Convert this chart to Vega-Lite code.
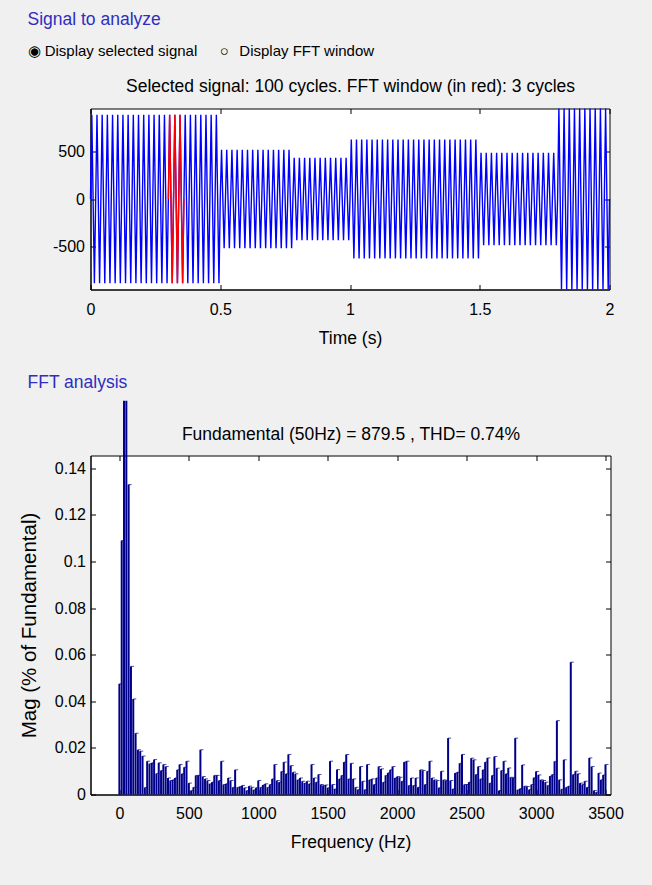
{
  "$schema": "https://vega.github.io/schema/vega-lite/v6.json",
  "background": "#f0f0f0",
  "padding": {"left": 18.5, "top": 10.5, "right": 27, "bottom": 34},
  "spacing": 26,
  "config": {
    "font": "Liberation Sans",
    "view": {"stroke": "black", "strokeWidth": 1, "fill": "white"},
    "axis": {
      "domainColor": "black", "tickColor": "black", "labelColor": "black", "titleColor": "black",
      "labelFontSize": 16, "titleFontSize": 17.5, "titleFontWeight": "normal",
      "tickSize": -5, "grid": false, "labelFlush": false, "labelOverlap": false,
      "labelFont": "Liberation Sans", "titleFont": "Liberation Sans"
    },
    "title": {"fontWeight": "normal", "font": "Liberation Sans"}
  },
  "datasets": {
    "signal": [
      {"t":0,"v":0},{"t":0.005,"v":879.5},{"t":0.015,"v":-879.5},
      {"t":0.02,"v":0},{"t":0.025,"v":879.5},{"t":0.035,"v":-879.5},
      {"t":0.04,"v":0},{"t":0.045,"v":879.5},{"t":0.055,"v":-879.5},
      {"t":0.06,"v":0},{"t":0.065,"v":879.5},{"t":0.075,"v":-879.5},
      {"t":0.08,"v":0},{"t":0.085,"v":879.5},{"t":0.095,"v":-879.5},
      {"t":0.1,"v":0},{"t":0.105,"v":879.5},{"t":0.115,"v":-879.5},
      {"t":0.12,"v":0},{"t":0.125,"v":879.5},{"t":0.135,"v":-879.5},
      {"t":0.14,"v":0},{"t":0.145,"v":879.5},{"t":0.155,"v":-879.5},
      {"t":0.16,"v":0},{"t":0.165,"v":879.5},{"t":0.175,"v":-879.5},
      {"t":0.18,"v":0},{"t":0.185,"v":879.5},{"t":0.195,"v":-879.5},
      {"t":0.2,"v":0},{"t":0.205,"v":879.5},{"t":0.215,"v":-879.5},
      {"t":0.22,"v":0},{"t":0.225,"v":879.5},{"t":0.235,"v":-879.5},
      {"t":0.24,"v":0},{"t":0.245,"v":879.5},{"t":0.255,"v":-879.5},
      {"t":0.26,"v":0},{"t":0.265,"v":879.5},{"t":0.275,"v":-879.5},
      {"t":0.28,"v":0},{"t":0.285,"v":879.5},{"t":0.295,"v":-879.5},
      {"t":0.3,"v":0},{"t":0.305,"v":879.5},{"t":0.315,"v":-879.5},
      {"t":0.32,"v":0},{"t":0.325,"v":879.5},{"t":0.335,"v":-879.5},
      {"t":0.34,"v":0},{"t":0.345,"v":879.5},{"t":0.355,"v":-879.5},
      {"t":0.36,"v":0},{"t":0.365,"v":879.5},{"t":0.375,"v":-879.5},
      {"t":0.38,"v":0},{"t":0.385,"v":879.5},{"t":0.395,"v":-879.5},
      {"t":0.4,"v":0},{"t":0.405,"v":879.5},{"t":0.415,"v":-879.5},
      {"t":0.42,"v":0},{"t":0.425,"v":879.5},{"t":0.435,"v":-879.5},
      {"t":0.44,"v":0},{"t":0.445,"v":879.5},{"t":0.455,"v":-879.5},
      {"t":0.46,"v":0},{"t":0.465,"v":879.5},{"t":0.475,"v":-879.5},
      {"t":0.48,"v":0},{"t":0.485,"v":879.5},{"t":0.495,"v":-879.5},
      {"t":0.5,"v":0},{"t":0.505,"v":515},{"t":0.515,"v":-515},
      {"t":0.52,"v":0},{"t":0.525,"v":515},{"t":0.535,"v":-515},
      {"t":0.54,"v":0},{"t":0.545,"v":515},{"t":0.555,"v":-515},
      {"t":0.56,"v":0},{"t":0.565,"v":515},{"t":0.575,"v":-515},
      {"t":0.58,"v":0},{"t":0.585,"v":515},{"t":0.595,"v":-515},
      {"t":0.6,"v":0},{"t":0.605,"v":515},{"t":0.615,"v":-515},
      {"t":0.62,"v":0},{"t":0.625,"v":515},{"t":0.635,"v":-515},
      {"t":0.64,"v":0},{"t":0.645,"v":515},{"t":0.655,"v":-515},
      {"t":0.66,"v":0},{"t":0.665,"v":515},{"t":0.675,"v":-515},
      {"t":0.68,"v":0},{"t":0.685,"v":515},{"t":0.695,"v":-515},
      {"t":0.7,"v":0},{"t":0.705,"v":515},{"t":0.715,"v":-515},
      {"t":0.72,"v":0},{"t":0.725,"v":515},{"t":0.735,"v":-515},
      {"t":0.74,"v":0},{"t":0.745,"v":515},{"t":0.755,"v":-515},
      {"t":0.76,"v":0},{"t":0.765,"v":515},{"t":0.775,"v":-515},
      {"t":0.78,"v":0},{"t":0.785,"v":430},{"t":0.795,"v":-430},
      {"t":0.8,"v":0},{"t":0.805,"v":430},{"t":0.815,"v":-430},
      {"t":0.82,"v":0},{"t":0.825,"v":430},{"t":0.835,"v":-430},
      {"t":0.84,"v":0},{"t":0.845,"v":430},{"t":0.855,"v":-430},
      {"t":0.86,"v":0},{"t":0.865,"v":430},{"t":0.875,"v":-430},
      {"t":0.88,"v":0},{"t":0.885,"v":430},{"t":0.895,"v":-430},
      {"t":0.9,"v":0},{"t":0.905,"v":430},{"t":0.915,"v":-430},
      {"t":0.92,"v":0},{"t":0.925,"v":430},{"t":0.935,"v":-430},
      {"t":0.94,"v":0},{"t":0.945,"v":430},{"t":0.955,"v":-430},
      {"t":0.96,"v":0},{"t":0.965,"v":430},{"t":0.975,"v":-430},
      {"t":0.98,"v":0},{"t":0.985,"v":430},{"t":0.995,"v":-430},
      {"t":1.0,"v":0},{"t":1.005,"v":620},{"t":1.015,"v":-620},
      {"t":1.02,"v":0},{"t":1.025,"v":620},{"t":1.035,"v":-620},
      {"t":1.04,"v":0},{"t":1.045,"v":620},{"t":1.055,"v":-620},
      {"t":1.06,"v":0},{"t":1.065,"v":620},{"t":1.075,"v":-620},
      {"t":1.08,"v":0},{"t":1.085,"v":620},{"t":1.095,"v":-620},
      {"t":1.1,"v":0},{"t":1.105,"v":620},{"t":1.115,"v":-620},
      {"t":1.12,"v":0},{"t":1.125,"v":620},{"t":1.135,"v":-620},
      {"t":1.14,"v":0},{"t":1.145,"v":620},{"t":1.155,"v":-620},
      {"t":1.16,"v":0},{"t":1.165,"v":620},{"t":1.175,"v":-620},
      {"t":1.18,"v":0},{"t":1.185,"v":620},{"t":1.195,"v":-620},
      {"t":1.2,"v":0},{"t":1.205,"v":620},{"t":1.215,"v":-620},
      {"t":1.22,"v":0},{"t":1.225,"v":620},{"t":1.235,"v":-620},
      {"t":1.24,"v":0},{"t":1.245,"v":620},{"t":1.255,"v":-620},
      {"t":1.26,"v":0},{"t":1.265,"v":620},{"t":1.275,"v":-620},
      {"t":1.28,"v":0},{"t":1.285,"v":620},{"t":1.295,"v":-620},
      {"t":1.3,"v":0},{"t":1.305,"v":620},{"t":1.315,"v":-620},
      {"t":1.32,"v":0},{"t":1.325,"v":620},{"t":1.335,"v":-620},
      {"t":1.34,"v":0},{"t":1.345,"v":620},{"t":1.355,"v":-620},
      {"t":1.36,"v":0},{"t":1.365,"v":620},{"t":1.375,"v":-620},
      {"t":1.38,"v":0},{"t":1.385,"v":620},{"t":1.395,"v":-620},
      {"t":1.4,"v":0},{"t":1.405,"v":620},{"t":1.415,"v":-620},
      {"t":1.42,"v":0},{"t":1.425,"v":620},{"t":1.435,"v":-620},
      {"t":1.44,"v":0},{"t":1.445,"v":620},{"t":1.455,"v":-620},
      {"t":1.46,"v":0},{"t":1.465,"v":620},{"t":1.475,"v":-620},
      {"t":1.48,"v":0},{"t":1.485,"v":620},{"t":1.495,"v":-620},
      {"t":1.5,"v":0},{"t":1.505,"v":483},{"t":1.515,"v":-483},
      {"t":1.52,"v":0},{"t":1.525,"v":483},{"t":1.535,"v":-483},
      {"t":1.54,"v":0},{"t":1.545,"v":483},{"t":1.555,"v":-483},
      {"t":1.56,"v":0},{"t":1.565,"v":483},{"t":1.575,"v":-483},
      {"t":1.58,"v":0},{"t":1.585,"v":483},{"t":1.595,"v":-483},
      {"t":1.6,"v":0},{"t":1.605,"v":483},{"t":1.615,"v":-483},
      {"t":1.62,"v":0},{"t":1.625,"v":483},{"t":1.635,"v":-483},
      {"t":1.64,"v":0},{"t":1.645,"v":483},{"t":1.655,"v":-483},
      {"t":1.66,"v":0},{"t":1.665,"v":483},{"t":1.675,"v":-483},
      {"t":1.68,"v":0},{"t":1.685,"v":483},{"t":1.695,"v":-483},
      {"t":1.7,"v":0},{"t":1.705,"v":483},{"t":1.715,"v":-483},
      {"t":1.72,"v":0},{"t":1.725,"v":483},{"t":1.735,"v":-483},
      {"t":1.74,"v":0},{"t":1.745,"v":483},{"t":1.755,"v":-483},
      {"t":1.76,"v":0},{"t":1.765,"v":483},{"t":1.775,"v":-483},
      {"t":1.78,"v":0},{"t":1.785,"v":483},{"t":1.795,"v":-483},
      {"t":1.8,"v":0},{"t":1.805,"v":945},{"t":1.815,"v":-945},
      {"t":1.82,"v":0},{"t":1.825,"v":945},{"t":1.835,"v":-945},
      {"t":1.84,"v":0},{"t":1.845,"v":945},{"t":1.855,"v":-945},
      {"t":1.86,"v":0},{"t":1.865,"v":945},{"t":1.875,"v":-945},
      {"t":1.88,"v":0},{"t":1.885,"v":945},{"t":1.895,"v":-945},
      {"t":1.9,"v":0},{"t":1.905,"v":945},{"t":1.915,"v":-945},
      {"t":1.92,"v":0},{"t":1.925,"v":945},{"t":1.935,"v":-945},
      {"t":1.94,"v":0},{"t":1.945,"v":945},{"t":1.955,"v":-945},
      {"t":1.96,"v":0},{"t":1.965,"v":945},{"t":1.975,"v":-945},
      {"t":1.98,"v":0},{"t":1.985,"v":945},{"t":1.995,"v":-945},
      {"t":2.0,"v":0}
    ],
    "fft": [
      {"f":0,"m":0.0475},{"f":16.67,"m":0.109},{"f":33.33,"m":0.169},
      {"f":50,"m":0.169},{"f":66.67,"m":0.133},{"f":83.33,"m":0.055},
      {"f":100,"m":0.041},{"f":116.67,"m":0.0263},{"f":133.33,"m":0.0192},
      {"f":150,"m":0.0186},{"f":166.67,"m":0.0165},{"f":183.33,"m":0.003},
      {"f":200,"m":0.0143},{"f":216.67,"m":0.0132},{"f":233.33,"m":0.0136},
      {"f":250,"m":0.015},{"f":266.67,"m":0.009},{"f":283.33,"m":0.0136},
      {"f":300,"m":0.0103},{"f":316.67,"m":0.0129},{"f":333.33,"m":0.012},
      {"f":350,"m":0.0071},{"f":366.67,"m":0.006},{"f":383.33,"m":0.0063},
      {"f":400,"m":0.0071},{"f":416.67,"m":0.0106},{"f":433.33,"m":0.0129},
      {"f":450,"m":0.0089},{"f":466.67,"m":0.0117},{"f":483.33,"m":0.0143},
      {"f":500,"m":0.0049},{"f":516.67,"m":0.0017},{"f":533.33,"m":0.0031},
      {"f":550,"m":0.0082},{"f":566.67,"m":0.0082},{"f":583.33,"m":0.0192},
      {"f":600,"m":0.0077},{"f":616.67,"m":0.0067},{"f":633.33,"m":0.006},
      {"f":650,"m":0.0046},{"f":666.67,"m":0.0053},{"f":683.33,"m":0.0082},
      {"f":700,"m":0.0082},{"f":716.67,"m":0.006},{"f":733.33,"m":0.0143},
      {"f":750,"m":0.0043},{"f":766.67,"m":0.0046},{"f":783.33,"m":0.0071},
      {"f":800,"m":0.006},{"f":816.67,"m":0.0031},{"f":833.33,"m":0.0106},
      {"f":850,"m":0.0031},{"f":866.67,"m":0.0034},{"f":883.33,"m":0.0039},
      {"f":900,"m":0.0029},{"f":916.67,"m":0.0017},{"f":933.33,"m":0.0036},
      {"f":950,"m":0.0031},{"f":966.67,"m":0.002},{"f":983.33,"m":0.0029},
      {"f":1000,"m":0.006},{"f":1016.67,"m":0.0031},{"f":1033.33,"m":0.0041},
      {"f":1050,"m":0.0046},{"f":1066.67,"m":0.0031},{"f":1083.33,"m":0.0043},
      {"f":1100,"m":0.0067},{"f":1116.67,"m":0.0129},{"f":1133.33,"m":0.006},
      {"f":1150,"m":0.0053},{"f":1166.67,"m":0.0099},{"f":1183.33,"m":0.0139},
      {"f":1200,"m":0.0089},{"f":1216.67,"m":0.0172},{"f":1233.33,"m":0.0124},
      {"f":1250,"m":0.0096},{"f":1266.67,"m":0.0089},{"f":1283.33,"m":0.0063},
      {"f":1300,"m":0.0071},{"f":1316.67,"m":0.0057},{"f":1333.33,"m":0.0049},
      {"f":1350,"m":0.0057},{"f":1366.67,"m":0.0046},{"f":1383.33,"m":0.0129},
      {"f":1400,"m":0.0071},{"f":1416.67,"m":0.0053},{"f":1433.33,"m":0.0086},
      {"f":1450,"m":0.0043},{"f":1466.67,"m":0.0039},{"f":1483.33,"m":0.0041},
      {"f":1500,"m":0.0029},{"f":1516.67,"m":0.0143},{"f":1533.33,"m":0.0043},
      {"f":1550,"m":0.0024},{"f":1566.67,"m":0.0107},{"f":1583.33,"m":0.0067},
      {"f":1600,"m":0.0082},{"f":1616.67,"m":0.0139},{"f":1633.33,"m":0.0172},
      {"f":1650,"m":0.0067},{"f":1666.67,"m":0.0134},{"f":1683.33,"m":0.0067},
      {"f":1700,"m":0.0031},{"f":1716.67,"m":0.0021},{"f":1733.33,"m":0.012},
      {"f":1750,"m":0.0057},{"f":1766.67,"m":0.0021},{"f":1783.33,"m":0.0129},
      {"f":1800,"m":0.0063},{"f":1816.67,"m":0.0067},{"f":1833.33,"m":0.0043},
      {"f":1850,"m":0.0071},{"f":1866.67,"m":0.012},{"f":1883.33,"m":0.011},
      {"f":1900,"m":0.0053},{"f":1916.67,"m":0.0082},{"f":1933.33,"m":0.0093},
      {"f":1950,"m":0.0106},{"f":1966.67,"m":0.012},{"f":1983.33,"m":0.0071},
      {"f":2000,"m":0.0077},{"f":2016.67,"m":0.0074},{"f":2033.33,"m":0.0057},
      {"f":2050,"m":0.0139},{"f":2066.67,"m":0.0143},{"f":2083.33,"m":0.0039},
      {"f":2100,"m":0.0071},{"f":2116.67,"m":0.0039},{"f":2133.33,"m":0.0071},
      {"f":2150,"m":0.0031},{"f":2166.67,"m":0.0106},{"f":2183.33,"m":0.0103},
      {"f":2200,"m":0.0043},{"f":2216.67,"m":0.01},{"f":2233.33,"m":0.0143},
      {"f":2250,"m":0.0071},{"f":2266.67,"m":0.0063},{"f":2283.33,"m":0.006},
      {"f":2300,"m":0.0029},{"f":2316.67,"m":0.01},{"f":2333.33,"m":0.0063},
      {"f":2350,"m":0.006},{"f":2366.67,"m":0.0242},{"f":2383.33,"m":0.006},
      {"f":2400,"m":0.0024},{"f":2416.67,"m":0.0092},{"f":2433.33,"m":0.0096},
      {"f":2450,"m":0.0134},{"f":2466.67,"m":0.0172},{"f":2483.33,"m":0.0043},
      {"f":2500,"m":0.0043},{"f":2516.67,"m":0.0053},{"f":2533.33,"m":0.0156},
      {"f":2550,"m":0.0149},{"f":2566.67,"m":0.0086},{"f":2583.33,"m":0.012},
      {"f":2600,"m":0.0067},{"f":2616.67,"m":0.0106},{"f":2633.33,"m":0.0139},
      {"f":2650,"m":0.0157},{"f":2666.67,"m":0.0049},{"f":2683.33,"m":0.0082},
      {"f":2700,"m":0.0163},{"f":2716.67,"m":0.0113},{"f":2733.33,"m":0.0017},
      {"f":2750,"m":0.0103},{"f":2766.67,"m":0.0143},{"f":2783.33,"m":0.0089},
      {"f":2800,"m":0.0114},{"f":2816.67,"m":0.0074},{"f":2833.33,"m":0.0072},
      {"f":2850,"m":0.0242},{"f":2866.67,"m":0.002},{"f":2883.33,"m":0.0025},
      {"f":2900,"m":0.0127},{"f":2916.67,"m":0.0036},{"f":2933.33,"m":0.0034},
      {"f":2950,"m":0.0021},{"f":2966.67,"m":0.0043},{"f":2983.33,"m":0.0072},
      {"f":3000,"m":0.0099},{"f":3016.67,"m":0.0084},{"f":3033.33,"m":0.0063},
      {"f":3050,"m":0.006},{"f":3066.67,"m":0.0053},{"f":3083.33,"m":0.0039},
      {"f":3100,"m":0.0079},{"f":3116.67,"m":0.0086},{"f":3133.33,"m":0.0142},
      {"f":3150,"m":0.0317},{"f":3166.67,"m":0.0063},{"f":3183.33,"m":0.0023},
      {"f":3200,"m":0.0149},{"f":3216.67,"m":0.0031},{"f":3233.33,"m":0.0036},
      {"f":3250,"m":0.0568},{"f":3266.67,"m":0.0086},{"f":3283.33,"m":0.01},
      {"f":3300,"m":0.0089},{"f":3316.67,"m":0.0049},{"f":3333.33,"m":0.0043},
      {"f":3350,"m":0.0057},{"f":3366.67,"m":0.0031},{"f":3383.33,"m":0.0157},
      {"f":3400,"m":0.012},{"f":3416.67,"m":0.0017},{"f":3433.33,"m":0.001},
      {"f":3450,"m":0.0092},{"f":3466.67,"m":0.0063},{"f":3483.33,"m":0.0084},
      {"f":3500,"m":0.0129}
    ]
  },
  "vconcat": [
    {
      "width": 519,
      "height": 181,
      "title": {
        "text": "Signal to analyze",
        "subtitle": "◉ Display selected signal\u2003\u2002○\u2002\u2009Display FFT window",
        "anchor": "start", "frame": "group", "dx": -63,
        "fontSize": 17.5, "color": "#2e2ebf",
        "subtitleFontSize": 15, "subtitleColor": "black", "subtitleFont": "Liberation Sans",
        "subtitlePadding": 15, "offset": 18.5
      },
      "data": {"name": "signal"},
      "layer": [
        {
          "mark": {"type": "line", "color": "#0000ff", "strokeWidth": 1.4, "clip": false},
          "encoding": {
            "x": {"field": "t", "type": "quantitative",
                  "scale": {"domain": [0, 2], "nice": false},
                  "axis": {"values": [0, 0.5, 1, 1.5, 2], "format": "~g", "title": "Time (s)",
                           "labelPadding": 17, "titlePadding": 12}},
            "y": {"field": "v", "type": "quantitative",
                  "scale": {"domain": [-945, 945], "nice": false},
                  "axis": {"values": [-500, 0, 500], "title": null, "labelPadding": 11,
                           "labelExpr": "replace(datum.label, '−', '-')"}}
          }
        },
        {
          "transform": [{"filter": "datum.t >= 0.3 && datum.t <= 0.36"}],
          "mark": {"type": "line", "color": "#ff0000", "strokeWidth": 1.4},
          "encoding": {
            "x": {"field": "t", "type": "quantitative",
                  "axis": {"orient": "top", "values": [0, 0.5, 1, 1.5, 2], "labels": false, "domain": false,
                           "title": "Selected signal: 100 cycles. FFT window (in red): 3 cycles",
                           "titlePadding": 13}},
            "y": {"field": "v", "type": "quantitative",
                  "axis": {"orient": "right", "values": [-500, 0, 500], "labels": false, "domain": false, "title": null}}
          }
        }
      ],
      "resolve": {"axis": {"x": "independent", "y": "independent"}}
    },
    {
      "width": 520,
      "height": 339,
      "title": {
        "text": "FFT analysis",
        "anchor": "start", "frame": "group", "dx": -63,
        "fontSize": 17.5, "color": "#2e2ebf", "offset": 9
      },
      "data": {"name": "fft"},
      "layer": [
        {
          "mark": {"type": "bar", "orient": "vertical", "color": "#000088", "size": 2, "clip": false},
          "encoding": {
            "x": {"field": "f", "type": "quantitative",
                  "scale": {"domain": [-172, 3500], "nice": false, "zero": false},
                  "axis": {"values": [0, 500, 1000, 1500, 2000, 2500, 3000, 3500], "format": "d",
                           "title": "Frequency (Hz)", "labelPadding": 16, "titlePadding": 11.5}},
            "y": {"field": "m", "type": "quantitative",
                  "scale": {"domain": [0, 0.1455], "nice": false},
                  "axis": {"values": [0, 0.02, 0.04, 0.06, 0.08, 0.1, 0.12, 0.14], "format": ".2~f",
                           "title": "Mag (% of Fundamental)", "titleFontSize": 20.5,
                           "labelPadding": 10, "titlePadding": 15}}
          }
        },
        {
          "transform": [{"filter": "datum.m < 0.145"}],
          "mark": {"type": "tick", "orient": "horizontal", "color": "#000088", "size": 3, "thickness": 1, "xOffset": 1.5},
          "encoding": {
            "x": {"field": "f", "type": "quantitative",
                  "axis": {"orient": "top", "values": [0, 500, 1000, 1500, 2000, 2500, 3000, 3500], "labels": false,
                           "domain": false, "title": "Fundamental (50Hz) = 879.5 , THD= 0.74%", "titlePadding": 12}},
            "y": {"field": "m", "type": "quantitative",
                  "axis": {"orient": "right", "values": [0, 0.02, 0.04, 0.06, 0.08, 0.1, 0.12, 0.14], "labels": false,
                           "domain": false, "title": null}}
          }
        }
      ],
      "resolve": {"axis": {"x": "independent", "y": "independent"}}
    }
  ]
}
